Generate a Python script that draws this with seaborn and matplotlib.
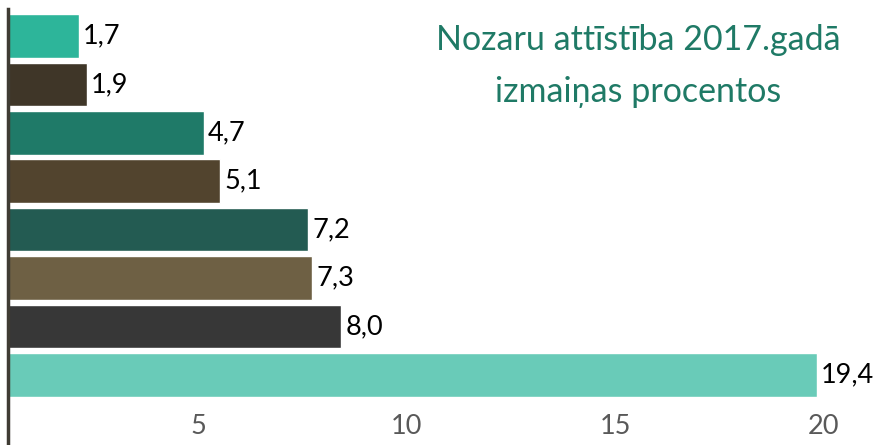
import matplotlib.pyplot as plt
import matplotlib.transforms as mtransforms
import seaborn as sns

# values, top to bottom
categories = ["1", "2", "3", "4", "5", "6", "7", "8"]
values = [1.7, 1.9, 4.7, 5.1, 7.2, 7.3, 8.0, 19.4]
bar_colors = ["#2db59a", "#3f3628", "#1f7a68", "#52442e",
              "#235b52", "#6e6044", "#373737", "#69cbb8"]
xticks = [5, 10, 15, 20]
title = "Nozaru attīstība 2017.gadā\nizmaiņas procentos"

sns.set_style("white")
plt.rcParams['font.family'] = ['Lato', 'DejaVu Sans']

fig = plt.figure(figsize=(8.75, 4.45), dpi=100)
ax = fig.add_axes([0.009, 0.0, 0.991, 0.98])

sns.barplot(x=values, y=categories, hue=categories, palette=bar_colors,
            legend=False, width=0.9, orient='h', ax=ax, saturation=1)

for cont in ax.containers:
    ax.bar_label(cont, labels=[f"{v:.1f}".replace('.', ',') for v in cont.datavalues],
                 padding=3, fontsize=19.5, color='black', clip_on=False)

ax.set_xlim(0, 20.8)
ax.set_ylim(8.446, -0.558)
ax.set_xticks(xticks)
ax.set_xticklabels([str(t) for t in xticks])
ax.set_yticks([])
ax.set_xlabel('')
ax.set_ylabel('')
ax.tick_params(axis='x', length=0, pad=-22, labelsize=19.5, labelcolor='#595959')
shift = mtransforms.ScaledTranslation(-0.18, 0, fig.dpi_scale_trans)
for lbl in ax.get_xticklabels():
    lbl.set_transform(lbl.get_transform() + shift)

for side in ['top', 'right', 'bottom']:
    ax.spines[side].set_visible(False)
ax.spines['left'].set_color('#3f3b33')
ax.spines['left'].set_linewidth(2.5)

fig.text(0.729, 0.852, title, ha='center', va='center', fontsize=24.5,
         color='#1f7a66', linespacing=1.75)

plt.savefig('out.png', dpi=100)
